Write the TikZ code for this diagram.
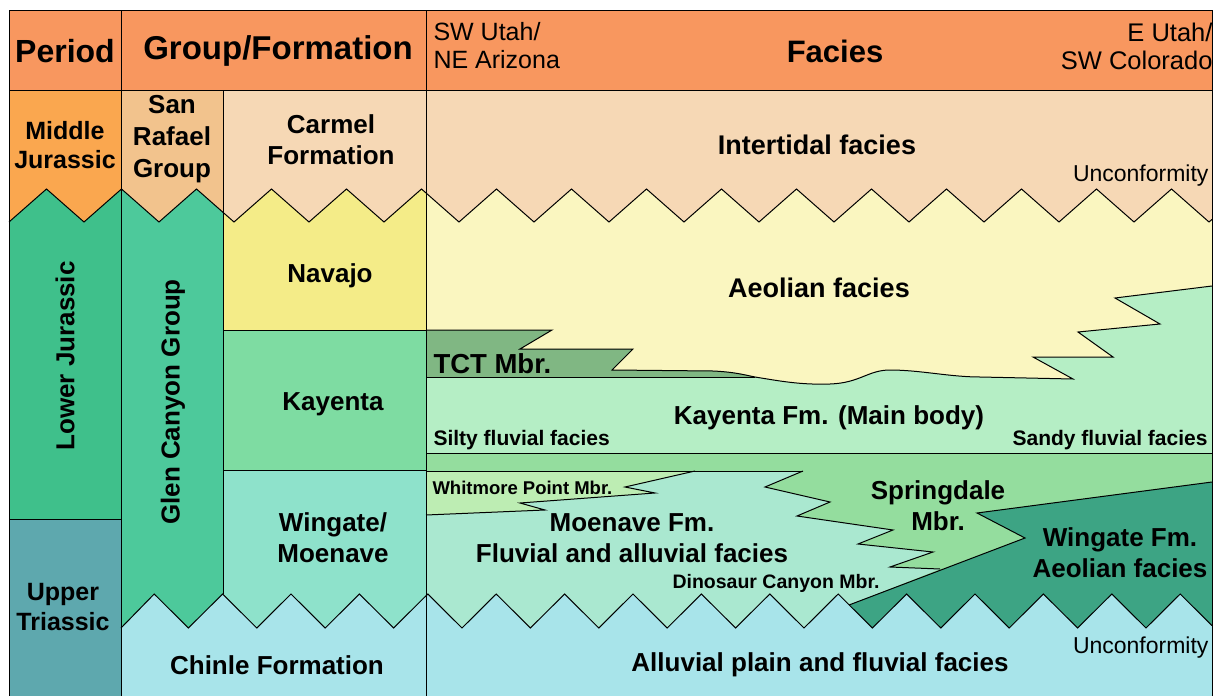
\documentclass[tikz,border=0pt]{standalone}
\usepackage{fontspec}
\setmainfont{Liberation Sans}

\definecolor{headcol}{HTML}{F8975F}
\definecolor{midjurcol}{HTML}{FAA74F}
\definecolor{lowjurcol}{HTML}{3FC08B}
\definecolor{uptricol}{HTML}{5EA8AE}
\definecolor{sanrafcol}{HTML}{F2C38D}
\definecolor{glencol}{HTML}{4DC99B}
\definecolor{carmelcol}{HTML}{F6D8B5}
\definecolor{navajocol}{HTML}{F4EC88}
\definecolor{kayentacol}{HTML}{7EDCA2}
\definecolor{wingmoencol}{HTML}{8EE2CB}
\definecolor{aeolcol}{HTML}{FAF6C0}
\definecolor{kaymaincol}{HTML}{B5EEC5}
\definecolor{tctcol}{HTML}{80B783}
\definecolor{springcol}{HTML}{94DD9E}
\definecolor{whitcol}{HTML}{BDEDB3}
\definecolor{moencol}{HTML}{AAE8D0}
\definecolor{wingcol}{HTML}{3DA484}
\definecolor{chinlecol}{HTML}{A8E4EA}

\begin{document}
\begin{tikzpicture}[x=1pt,y=-1pt,line width=1pt,
  head/.style={font=\bfseries\fontsize{32}{36}\selectfont,inner sep=0pt},
  place/.style={font=\fontsize{25}{28}\selectfont,inner sep=0pt},
  unit/.style={font=\bfseries\fontsize{26}{31}\selectfont,align=center,inner sep=0pt},
  minor/.style={font=\bfseries\fontsize{21}{25}\selectfont,inner sep=0pt},
  unconf/.style={font=\fontsize{23}{26}\selectfont,inner sep=0pt}]

\useasboundingbox (0,0) rectangle (1224,696);
\fill[white] (0,0) rectangle (1224,696);

% ===== Boundaries =====
\def\zigtop{(9,222) \foreach \k in {0,...,15}{ -- ({46.5+75*\k},189) -- ({84+75*\k},222)} -- (1212,219.4)}
\def\zigbot{(121,628) \foreach \k in {0,...,14}{ -- ({154.2+68.4*\k},594) -- ({188.4+68.4*\k},628)} -- (1180.2,594) -- (1212,625.6)}
\def\aeolbase{(426,330) -- (552,330) -- (520,349) -- (633,349) -- (612,370) -- (713,371)
  .. controls (735,372) and (745,375) .. (755,377) .. controls (780,381) and (800,385) .. (830,384)
  .. controls (860,383) and (868,370) .. (890,370) .. controls (920,370) and (950,377) .. (980,377)
  -- (1073,379) -- (1033,357) -- (1113,357) -- (1078,332) -- (1160,324) -- (1115,298) -- (1212,286)}

% ===== Header =====
\fill[headcol] (9,10) rectangle (1212,90);

% ===== Period column =====
\fill[midjurcol] (9,90) rectangle (121,260);
\begin{scope}
  \clip (9,90) rectangle (121,696);
  \fill[lowjurcol] \zigtop -- (1212,519) -- (9,519) -- cycle;
\end{scope}
\fill[uptricol] (9,519) rectangle (121,696);

% ===== Group column =====
\fill[sanrafcol] (121,90) rectangle (223,260);
\begin{scope}
  \clip (121,90) rectangle (223,696);
  \fill[glencol] \zigtop -- (1212,696) -- (9,696) -- cycle;
\end{scope}

% ===== Formation column =====
\fill[carmelcol] (223,90) rectangle (426,260);
\begin{scope}
  \clip (223,90) rectangle (426,696);
  \fill[navajocol] \zigtop -- (1212,330) -- (9,330) -- cycle;
\end{scope}
\fill[kayentacol] (223,330) rectangle (426,470);
\fill[wingmoencol] (223,470) rectangle (426,696);

% ===== Facies =====
\fill[carmelcol] (426,90) rectangle (1212,260);
\begin{scope}
  \clip (426,90) rectangle (1212,696);
  \fill[aeolcol] \zigtop -- (1212,453) -- (9,453) -- cycle;
\end{scope}
\fill[kaymaincol] \aeolbase -- (1212,453) -- (426,453) -- cycle;
\fill[tctcol] (426,330) -- (552,330) -- (520,349) -- (633,349) -- (612,370) -- (713,371)
  .. controls (735,372) and (745,375) .. (755,377) -- (426,377) -- cycle;
\fill[springcol] (426,453) rectangle (1212,640);
\fill[whitcol] (426,471) -- (695,471) -- (625,487) -- (655,493) -- (520,503) -- (545,510) -- (426,515) -- cycle;
\fill[moencol] (426,515) -- (545,510) -- (520,503) -- (655,493) -- (625,487) -- (695,471) -- (803,471)
  -- (765,487) -- (830,502) -- (797,516) -- (893,530) -- (858,544) -- (933,552) -- (890,567)
  -- (940,569) -- (849,605) -- (849,640) -- (426,640) -- cycle;
\fill[wingcol] (849,605) -- (1025,538) -- (977,513) -- (1212,482) -- (1212,640) -- (849,640) -- cycle;
\fill[chinlecol] \zigbot -- (1212,696) -- (121,696) -- cycle;

% ===== Lines =====
\draw (9,700) -- (9,10) -- (1212,10) -- (1212,700);
\draw (9,90) -- (1212,90);
\draw (121,10) -- (121,700);
\draw (426,10) -- (426,700);
\draw (223,90) -- (223,594);
\draw (9,519) -- (121,519);
\draw (223,330) -- (426,330);
\draw (223,470) -- (426,470);
\draw \zigtop;
\draw \zigbot;
\draw \aeolbase;
\draw (426,377) -- (755,377);
\draw (426,453) -- (1212,453);
\draw (426,471) -- (803,471);
\draw (695,471) -- (625,487) -- (655,493) -- (520,503) -- (545,510) -- (426,515);
\draw (803,471) -- (765,487) -- (830,502) -- (797,516) -- (893,530) -- (858,544) -- (933,552) -- (890,567) -- (940,569);
\draw (849,605) -- (1025,538) -- (977,513) -- (1212,482);

% ===== Header texts =====
\node[head] (period) at (65,51) {Period};
\node[head,font=\bfseries\fontsize{33}{36}\selectfont] (groupform) at (278,51) {Group/Formation};
\node[place,anchor=west,align=left] (swutah) at (433,46) {SW Utah/\\NE Arizona};
\node[head,font=\bfseries\fontsize{31}{36}\selectfont] (facies) at (835,51) {Facies};
\node[place,font=\fontsize{25.5}{28}\selectfont,anchor=east,align=right] (eutah) at (1213,46) {E Utah/\\SW Colorado};

% ===== Units =====
\node[unit,font=\bfseries\fontsize{25}{29}\selectfont] (midjur) at (65,145) {Middle\\Jurassic};
\node[unit,rotate=90] (lowjur) at (65,356) {Lower Jurassic};
\node[unit,font=\bfseries\fontsize{25}{30}\selectfont] (uptri) at (63,607) {Upper\\Triassic};
\node[unit,font=\bfseries\fontsize{26}{32}\selectfont] (sanrafael) at (172,139) {San\\Rafael\\Group};
\node[unit,rotate=90] (glencanyon) at (173,402) {Glen Canyon Group};
\node[unit] (carmel) at (331,140) {Carmel\\Formation};
\node[unit] (navajo) at (330,276) {Navajo};
\node[unit] (kayenta) at (333,404) {Kayenta};
\node[unit] (wingmoen) at (333,538) {Wingate/\\Moenave};
\node[unit] (chinle) at (277,665) {Chinle Formation};

% ===== Facies texts =====
\node[unit,font=\bfseries\fontsize{27}{31}\selectfont] (intertidal) at (817,145) {Intertidal facies};
\node[unconf,anchor=east] (unconftop) at (1209,176) {Unconformity};
\node[unit,font=\bfseries\fontsize{27}{31}\selectfont] (aeolian) at (819,288) {Aeolian facies};
\node[unit,font=\bfseries\fontsize{27.5}{31}\selectfont,anchor=west] (tct) at (433,364) {TCT Mbr.};
\node[unit] (kaymain) at (829,418) {Kayenta Fm. (Main body)};
\node[minor,anchor=west] (silty) at (433,440) {Silty fluvial facies};
\node[minor,anchor=east] (sandy) at (1208,440) {Sandy fluvial facies};
\node[minor,font=\bfseries\fontsize{18.5}{22}\selectfont,anchor=west] (whitmore) at (432,488) {Whitmore Point Mbr.};
\node[unit] (moenave) at (632,538) {Moenave Fm.\\Fluvial and alluvial facies};
\node[minor,font=\bfseries\fontsize{19.5}{23}\selectfont] (dinosaur) at (776,583) {Dinosaur Canyon Mbr.};
\node[unit] (springdale) at (938,506) {Springdale\\Mbr.};
\node[unit] (wingfm) at (1120,553) {Wingate Fm.\\Aeolian facies};
\node[unconf,anchor=east] (unconfbot) at (1209,648) {Unconformity};
\node[unit] (alluvial) at (820,665) {Alluvial plain and fluvial facies};

\end{tikzpicture}
\end{document}
